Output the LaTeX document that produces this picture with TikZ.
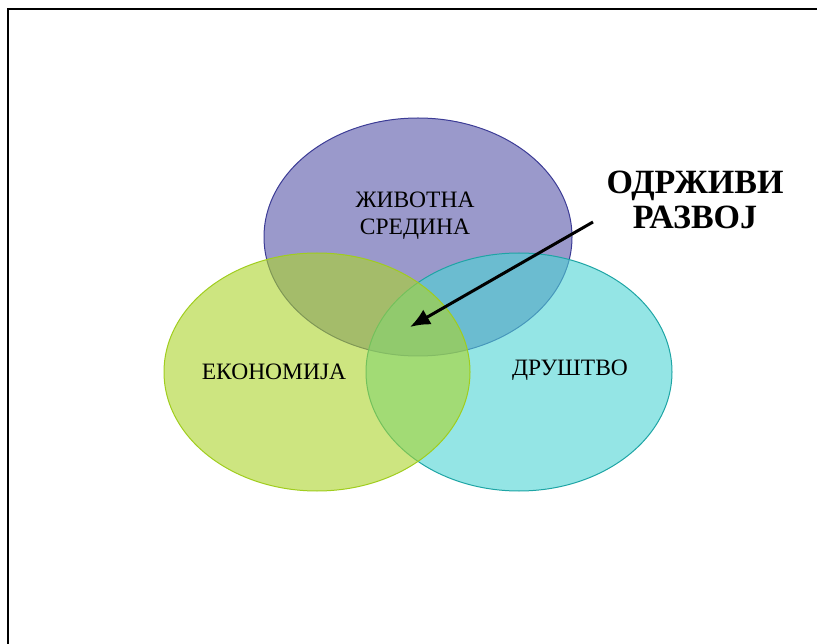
\documentclass[tikz,border=0pt]{standalone}
\usepackage{fontspec}
\setmainfont{Liberation Serif}
\usetikzlibrary{arrows.meta}
\definecolor{purp}{RGB}{87,85,168}
\definecolor{purpline}{RGB}{60,60,150}
\definecolor{grn}{RGB}{172,212,43}
\definecolor{grnline}{RGB}{160,205,30}
\definecolor{cyn}{RGB}{77,212,212}
\definecolor{cynline}{RGB}{30,165,165}
\begin{document}
\begin{tikzpicture}[x=1pt,y=-1pt,
  blob/.style={fill opacity=0.6, draw opacity=1, line width=1pt},
  lbl/.style={font=\fontsize{23.5}{27}\selectfont, align=center, inner sep=0pt},
  ttl/.style={font=\fontsize{34}{35}\selectfont\bfseries, align=center, inner sep=0pt}]
\useasboundingbox (0,0) rectangle (817,644);
\draw[line width=2.6pt] (8,650) -- (8,9) -- (830,9);
\path[blob, fill=purp, draw=purpline] (418,237) ellipse [x radius=154, y radius=119];
\path[blob, fill=cyn, draw=cynline] (519,372) ellipse [x radius=153, y radius=119];
\path[blob, fill=grn, draw=grnline] (317,372) ellipse [x radius=153, y radius=119];
\node[lbl] (env) at (415,216) {ЖИВОТНА\\СРЕДИНА};
\node[lbl] (eco) at (274,372) {ЕКОНОМИЈА};
\node[lbl] (soc) at (570,370) {ДРУШТВО};
\node[ttl] (sd) at (695,200) {ОДРЖИВИ\\РАЗВОЈ};
\coordinate (tip) at (410,327);
\coordinate (start) at (593,222);
\draw[line width=3pt, -{Latex[length=20pt,width=17pt]}] (start) -- (tip);
\end{tikzpicture}
\end{document}
